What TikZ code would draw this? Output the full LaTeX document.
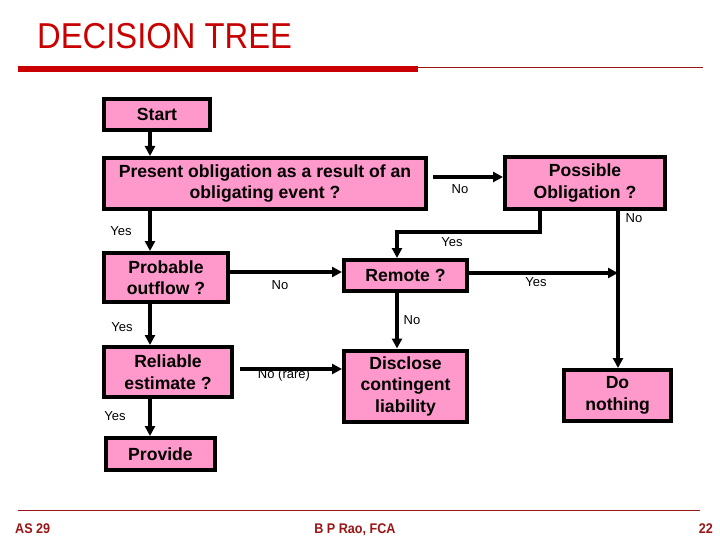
\documentclass[tikz,border=0pt]{standalone}
\usepackage{fontspec}
\setmainfont{Liberation Sans}
\newfontfamily\titlefont[FakeStretch=0.91]{Liberation Sans}
\newfontfamily\footfont[FakeStretch=0.9]{Liberation Sans}
\usetikzlibrary{arrows.meta}
\definecolor{boxpink}{HTML}{FF99CC}
\definecolor{titlered}{HTML}{C80000}
\definecolor{footred}{HTML}{9A1515}
\tikzset{
  box/.style={draw=black, line width=4pt, fill=boxpink, align=center,
    inner sep=0pt, font=\fontsize{17.6}{21.5}\selectfont\bfseries},
  arr/.style={line width=3.5pt, -{Triangle[length=10pt,width=10pt]}},
  lab/.style={font=\fontsize{13}{15}\selectfont, inner sep=0pt},
  foot/.style={text=footred, font=\footfont\fontsize{14}{16}\selectfont\bfseries, inner sep=0pt}
}
\begin{document}
\begin{tikzpicture}[x=1pt, y=-1pt]
  \useasboundingbox (0,0) rectangle (720,540);

  %% Heading and rules
  \node[anchor=base west, inner sep=0pt, text=titlered,
    font=\titlefont\fontsize{36}{40}\selectfont] (title) at (37,49) {DECISION TREE};
  \fill[titlered] (18,66) rectangle (418,72);
  \draw[footred, line width=1pt] (418,68) -- (703,68);

  %% Boxes of the tree (outer size minus the border)
  \node[box, minimum width=106, minimum height=31] (start)    at (157,114.5) {Start};
  \node[box, minimum width=322, minimum height=51] (present)  at (265,183.5)
    {Present obligation as a result of an\\obligating event ?};
  \node[box, minimum width=160, minimum height=52] (possible) at (585,183) {Possible\\Obligation ?};
  \node[box, minimum width=124, minimum height=49] (probable) at (166,277.5) {Probable\\outflow ?};
  \node[box, minimum width=123, minimum height=31] (remote)   at (405.5,275.5) {Remote ?};
  \node[box, minimum width=128, minimum height=50] (reliable) at (168,372) {Reliable\\estimate ?};
  \node[box, minimum width=123, minimum height=71] (disclose) at (405.5,386) {Disclose\\contingent\\liability};
  \node[box, minimum width=109, minimum height=32] (provide)  at (160.5,454) {Provide};
  \node[box, minimum width=107, minimum height=51] (nothing)  at (617.5,395.5) {Do\\nothing};

  %% Lanes the connectors run along
  \coordinate (colL) at (150,0);
  \coordinate (colR) at (397,0);
  \coordinate (rowNo) at (0,177);
  \coordinate (rowPr) at (0,272);
  \coordinate (rowRe) at (0,369);
  \coordinate (bend) at (540,232);
  \coordinate (join) at (618,273);

  %% Connectors
  \draw[arr] (start.south -| colL) -- (present.north -| colL);
  \draw[arr] (present.south -| colL) -- (probable.north -| colL);
  \draw[arr] ([xshift=5pt]present.east |- rowNo) -- (possible.west |- rowNo);
  \draw[arr] (possible.south -| bend) -- (bend) -| (remote.north -| colR);
  \draw[arr] (possible.south -| join) -- (nothing.north -| join);
  \draw[arr] (remote.east |- join) -- (join);
  \draw[arr] (probable.east |- rowPr) -- (remote.west |- rowPr);
  \draw[arr] (probable.south -| colL) -- (reliable.north -| colL);
  \draw[arr] (remote.south -| colR) -- (disclose.north -| colR);
  \draw[arr] ([xshift=6pt]reliable.east |- rowRe) -- (disclose.west |- rowRe);
  \draw[arr] (reliable.south -| colL) -- (provide.north -| colL);

  %% Branch labels
  \node[lab] (l1)  at (121,231) {Yes};
  \node[lab] (l2)  at (460,189) {No};
  \node[lab] (l3)  at (634,218) {No};
  \node[lab] (l4)  at (452,242) {Yes};
  \node[lab] (l5)  at (280,285) {No};
  \node[lab] (l6)  at (536,282) {Yes};
  \node[lab] (l7)  at (122,327) {Yes};
  \node[lab] (l8)  at (412,320) {No};
  \node[lab] (l9)  at (284,375) {No (rare)};
  \node[lab] (l10) at (115,416) {Yes};

  %% Footer
  \draw[footred, line width=1pt] (18,510) -- (700,510);
  \node[foot, anchor=base west] (fl) at (15,533) {AS 29};
  \node[foot, anchor=base] (fc) at (355,533) {B P Rao, FCA};
  \node[foot, anchor=base east] (fr) at (713,533) {22};
\end{tikzpicture}
\end{document}
